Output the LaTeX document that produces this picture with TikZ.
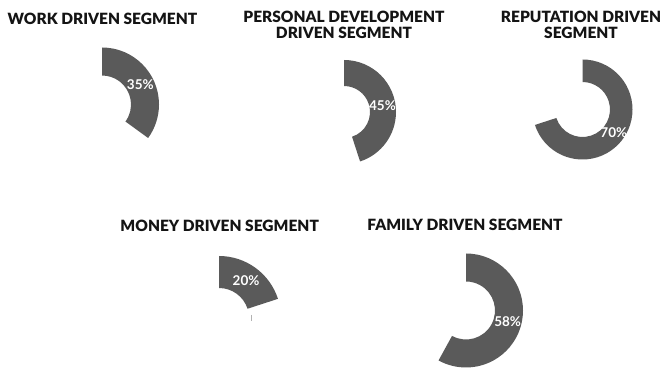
\documentclass[tikz,border=0pt]{standalone}
\usepackage{fontspec}
\setmainfont{Lato}[BoldFont={Lato Black}]
\newfontfamily\pctfont{Lato Bold}
\usetikzlibrary{calc}
\definecolor{segcol}{HTML}{5A5A5A}
\definecolor{titlecol}{HTML}{141414}
\tikzset{
  seg/.style={fill=segcol},
  ttl/.style={text=titlecol,font=\fontsize{15.5}{16}\selectfont\bfseries,align=center,inner sep=0pt},
  pct/.style={text=white,font=\fontsize{13.5}{14}\selectfont\pctfont,inner sep=0pt},
}
\newcommand{\donutseg}[6]{%
  \coordinate (#1) at (#2,{369-#3});
  \fill[seg] ($(#1)+(90:#4)$) arc[start angle=90, delta angle={-3.6*#6}, radius=#4]
    -- ($(#1)+({90-3.6*#6}:#5)$) arc[start angle={90-3.6*#6}, delta angle={3.6*#6}, radius=#5] -- cycle;
  \node[pct] (#1l) at ($(#1)+({90-1.8*#6}:{(#4+#5)/2})$) {#6\%};
}
\begin{document}
\begin{tikzpicture}[x=1pt,y=1pt]
\useasboundingbox[fill=white] (0,0) rectangle (667,369);
\donutseg{work}{102}{104.5}{57}{29}{35}
\donutseg{pers}{344}{112}{52}{26}{45}
\donutseg{repu}{582.5}{109.5}{50}{27.5}{70}
\donutseg{mone}{219}{318}{62}{30}{20}
\donutseg{fami}{466}{310.5}{57}{29}{58}
\draw[gray!60,line width=0.8pt] ($(mone)+(32,3)$) -- ($(mone)+(32,-3)$);
\node[ttl] (t1) at (102.5,{369-19}) {WORK DRIVEN SEGMENT};
\node[ttl] (t2) at (344,{369-25}) {PERSONAL DEVELOPMENT\\DRIVEN SEGMENT};
\node[ttl] (t3) at (581,{369-25}) {REPUTATION DRIVEN\\SEGMENT};
\node[ttl] (t4) at (219.7,{369-226}) {MONEY DRIVEN SEGMENT};
\node[ttl] (t5) at (465,{369-225}) {FAMILY DRIVEN SEGMENT};
\end{tikzpicture}
\end{document}
